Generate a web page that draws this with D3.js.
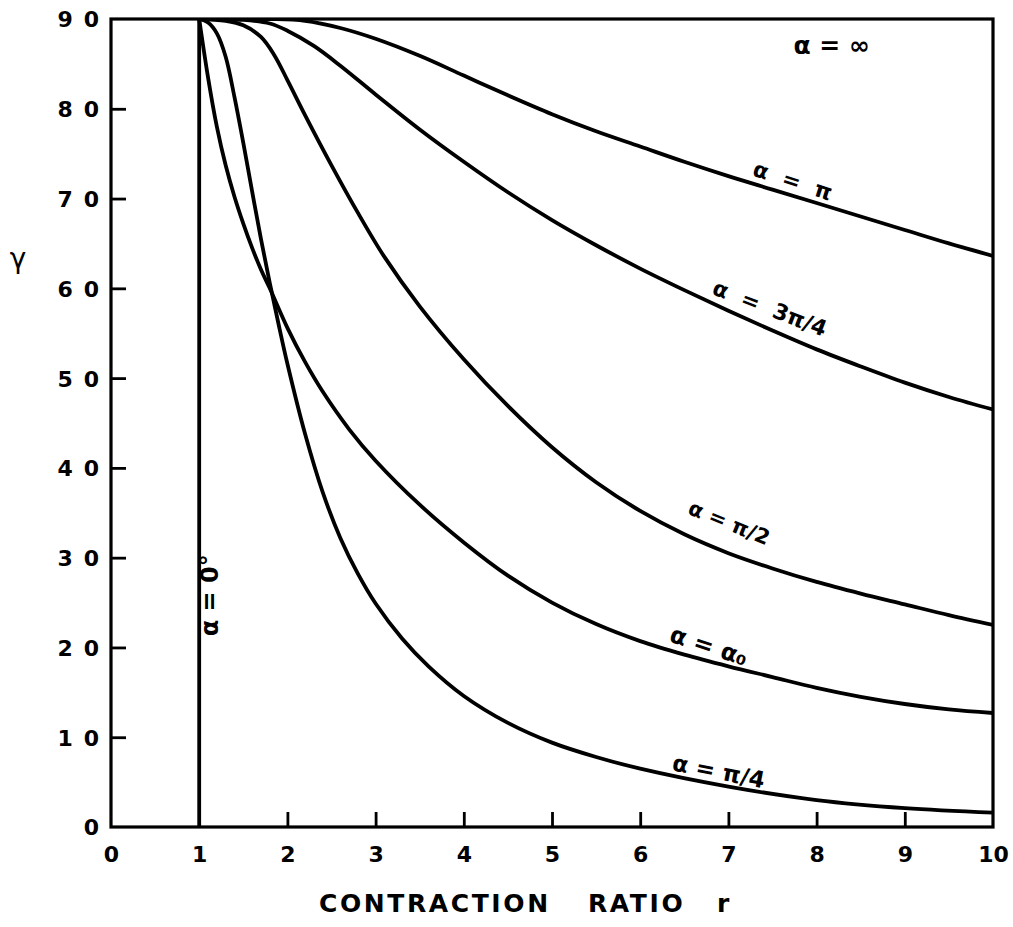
<!DOCTYPE html>
<html>
<head>
<meta charset="utf-8">
<script src="https://cdn.jsdelivr.net/npm/d3@7"></script>
<style>
  html, body { margin: 0; padding: 0; background: #fff; }
  svg { display: block; }
</style>
</head>
<body>
<svg id="chart" width="1013" height="927"></svg>
<script>
// ---------------- DATA ----------------
const xTickValues = [0, 1, 2, 3, 4, 5, 6, 7, 8, 9, 10];
const xTickLabels = ["0", "1", "2", "3", "4", "5", "6", "7", "8", "9", "10"];
const xTickMarks  = [2, 3, 4, 5, 6, 7, 8, 9];
const yTickValues = [0, 10, 20, 30, 40, 50, 60, 70, 80, 90];
const yTickLabels = ["0", "10", "20", "30", "40", "50", "60", "70", "80", "90"];
const yTickMarks  = [10, 20, 30, 40, 50, 60, 70, 80];

const xTitle = ["CONTRACTION", "RATIO", "r"];
const yTitle = "γ";

// α = 0 (vertical line at r = 1)
const seriesAlphaZero = [[1, 0], [1, 90]];

// α = π/4
const seriesPi4 = [[1, 90], [1.1, 89.6], [1.2, 88.4], [1.3, 85.8], [1.4, 81.3], [1.5, 76.2],
  [1.6, 70.8], [1.7, 65.5], [1.8, 60.6], [1.9, 56.0], [2.0, 51.6], [2.2, 43.8], [2.4, 37.3],
  [2.6, 32.2], [2.8, 28.2], [3.0, 24.9], [3.3, 21.0], [3.6, 17.9], [4.0, 14.6], [4.5, 11.6],
  [5.0, 9.4], [5.5, 7.8], [6.0, 6.5], [7.0, 4.5], [8.0, 3.0], [9.0, 2.1], [10, 1.6]];

// α = α0
const seriesAlpha0 = [[1, 90], [1.1, 83.5], [1.2, 78], [1.3, 73.7], [1.4, 70.2], [1.5, 67.2],
  [1.6, 64.5], [1.7, 62.1], [1.8, 60.0], [2.0, 55.6], [2.2, 51.8], [2.4, 48.5], [2.7, 44.3],
  [3.0, 40.8], [3.5, 35.9], [4.0, 31.7], [4.5, 28.0], [5.0, 25.0], [5.5, 22.6], [6.0, 20.7],
  [6.5, 19.2], [7.0, 17.9], [7.5, 16.7], [8.0, 15.5], [8.5, 14.5], [9.0, 13.7], [9.5, 13.1], [10, 12.7]];

// α = π/2
const seriesPi2 = [[1, 90], [1.3, 89.8], [1.5, 89.3], [1.7, 88.0], [1.85, 86.0], [2.0, 83.2],
  [2.2, 79.3], [2.5, 73.7], [2.8, 68.4], [3.1, 63.5], [3.5, 58.0], [4.0, 52.1], [4.5, 46.9],
  [5.0, 42.3], [5.5, 38.4], [6.0, 35.2], [6.5, 32.6], [7.0, 30.5], [7.5, 28.8], [8.0, 27.3],
  [8.5, 26.0], [9.0, 24.8], [9.5, 23.6], [10, 22.5]];

// α = 3π/4
const series3Pi4 = [[1, 90], [1.5, 89.9], [1.8, 89.5], [2.0, 88.7], [2.3, 87.0], [2.6, 84.8],
  [3.0, 81.6], [3.5, 77.7], [4.0, 74.1], [4.5, 70.7], [5.0, 67.6], [5.5, 64.8], [6.0, 62.2],
  [6.5, 59.8], [7.0, 57.5], [7.5, 55.3], [8.0, 53.2], [8.5, 51.3], [9.0, 49.5], [9.5, 47.9], [10, 46.5]];

// α = π
const seriesPi = [[1, 90], [1.8, 90], [2.2, 89.8], [2.6, 89.0], [3.0, 87.8], [3.5, 85.9],
  [4.0, 83.7], [4.5, 81.5], [5.0, 79.4], [5.5, 77.5], [6.0, 75.8], [6.5, 74.1], [7.0, 72.5],
  [7.5, 71.0], [8.0, 69.5], [8.5, 68.0], [9.0, 66.5], [9.5, 65.0], [10, 63.6]];

const curveSeries = [seriesPi4, seriesAlpha0, seriesPi2, series3Pi4, seriesPi];

// curve labels (text, anchor in data units)
const labelTexts   = ["α = ∞", "α  =  π", "α  =  3π/4", "α = π/2", "α = α₀", "α = π/4", "α = 0°"];
const labelAnchors = [[8.17, 87.1], [7.73, 72.0], [7.47, 57.8], [7.01, 33.9], [6.78, 20.2], [6.89, 6.2], [1.12, 25.8]];
const labelAngles  = [0, 18, 21, 22, 18, 11, -90];
const labelSizes   = [25, 22, 22, 21, 24, 23, 24];

// ---------------- DRAW ----------------
const svg = d3.select("#chart");
const X0 = 111, X1 = 993, Y0 = 827, Y1 = 19;
const x = d3.scaleLinear().domain([0, 10]).range([X0, X1]);
const y = d3.scaleLinear().domain([0, 90]).range([Y0, Y1]);

const FONT = "'DejaVu Sans', 'Liberation Sans', Arial, sans-serif";

// clip to the frame
svg.append("defs").append("clipPath").attr("id", "plotclip")
  .append("rect").attr("x", X0).attr("y", Y1).attr("width", X1 - X0).attr("height", Y0 - Y1);

// frame
svg.append("rect")
  .attr("x", X0).attr("y", Y1)
  .attr("width", X1 - X0).attr("height", Y0 - Y1)
  .attr("fill", "none").attr("stroke", "#000").attr("stroke-width", 3.2);

// y axis ticks (inward) and labels
const yAxis = d3.axisLeft(y)
  .tickValues(yTickValues)
  .tickFormat((d, i) => yTickLabels[i])
  .tickSizeInner(-15).tickSizeOuter(0).tickPadding(0);
const gy = svg.append("g").attr("transform", `translate(${X0},0)`).call(yAxis);
gy.select(".domain").remove();
gy.selectAll(".tick line")
  .attr("stroke", "#000").attr("stroke-width", 2.8)
  .style("display", d => yTickMarks.includes(d) ? null : "none");
gy.selectAll(".tick text")
  .attr("x", -1)
  .attr("dy", "0.36em")
  .attr("text-anchor", "end")
  .style("font-family", FONT).style("font-weight", "bold")
  .style("font-size", "22px").style("letter-spacing", "11px")
  .attr("fill", "#000");

// x axis ticks (inward) and labels
const xAxis = d3.axisBottom(x)
  .tickValues(xTickValues)
  .tickFormat((d, i) => xTickLabels[i])
  .tickSizeInner(-15).tickSizeOuter(0).tickPadding(0);
const gx = svg.append("g").attr("transform", `translate(0,${Y0})`).call(xAxis);
gx.select(".domain").remove();
gx.selectAll(".tick line")
  .attr("stroke", "#000").attr("stroke-width", 2.8)
  .style("display", d => xTickMarks.includes(d) ? null : "none");
gx.selectAll(".tick text")
  .attr("y", 27).attr("dy", "0.36em")
  .style("font-family", FONT).style("font-weight", "bold")
  .style("font-size", "22px")
  .attr("fill", "#000");

// α = 0 line
const line = d3.line().x(d => x(d[0])).y(d => y(d[1]));
svg.append("path")
  .datum(seriesAlphaZero)
  .attr("d", line)
  .attr("fill", "none").attr("stroke", "#000").attr("stroke-width", 3.8);

// curves
const curveLine = d3.line().x(d => x(d[0])).y(d => y(d[1])).curve(d3.curveCatmullRom.alpha(0.5));
svg.append("g").attr("clip-path", "url(#plotclip)")
  .selectAll("path.curve")
  .data(curveSeries)
  .join("path")
  .attr("class", "curve")
  .attr("d", curveLine)
  .attr("fill", "none").attr("stroke", "#000")
  .attr("stroke-width", 3.8).attr("stroke-linejoin", "round").attr("stroke-linecap", "round");

// curve labels
svg.selectAll("text.clabel")
  .data(labelTexts)
  .join("text")
  .attr("class", "clabel")
  .attr("transform", (d, i) => `translate(${x(labelAnchors[i][0])},${y(labelAnchors[i][1])}) rotate(${labelAngles[i]})`)
  .attr("text-anchor", "middle")
  .attr("dy", "0.35em")
  .style("font-family", FONT).style("font-weight", "bold")
  .style("font-size", (d, i) => labelSizes[i] + "px")
  .style("white-space", "pre")
  .attr("fill", "#000")
  .text(d => d);

// x axis title
const titleX = [319, 588, 717];
svg.append("text")
  .attr("y", 912)
  .style("font-family", FONT).style("font-weight", "bold")
  .style("font-size", "25px").style("letter-spacing", "2.6px")
  .attr("fill", "#000")
  .selectAll("tspan")
  .data(xTitle)
  .join("tspan")
  .attr("x", (d, i) => titleX[i])
  .text(d => d);

// y axis title
svg.append("text")
  .attr("x", 18).attr("y", 268)
  .attr("text-anchor", "middle")
  .style("font-family", FONT)
  .style("font-size", "28px")
  .attr("fill", "#000")
  .text(yTitle);
</script>
</body>
</html>
